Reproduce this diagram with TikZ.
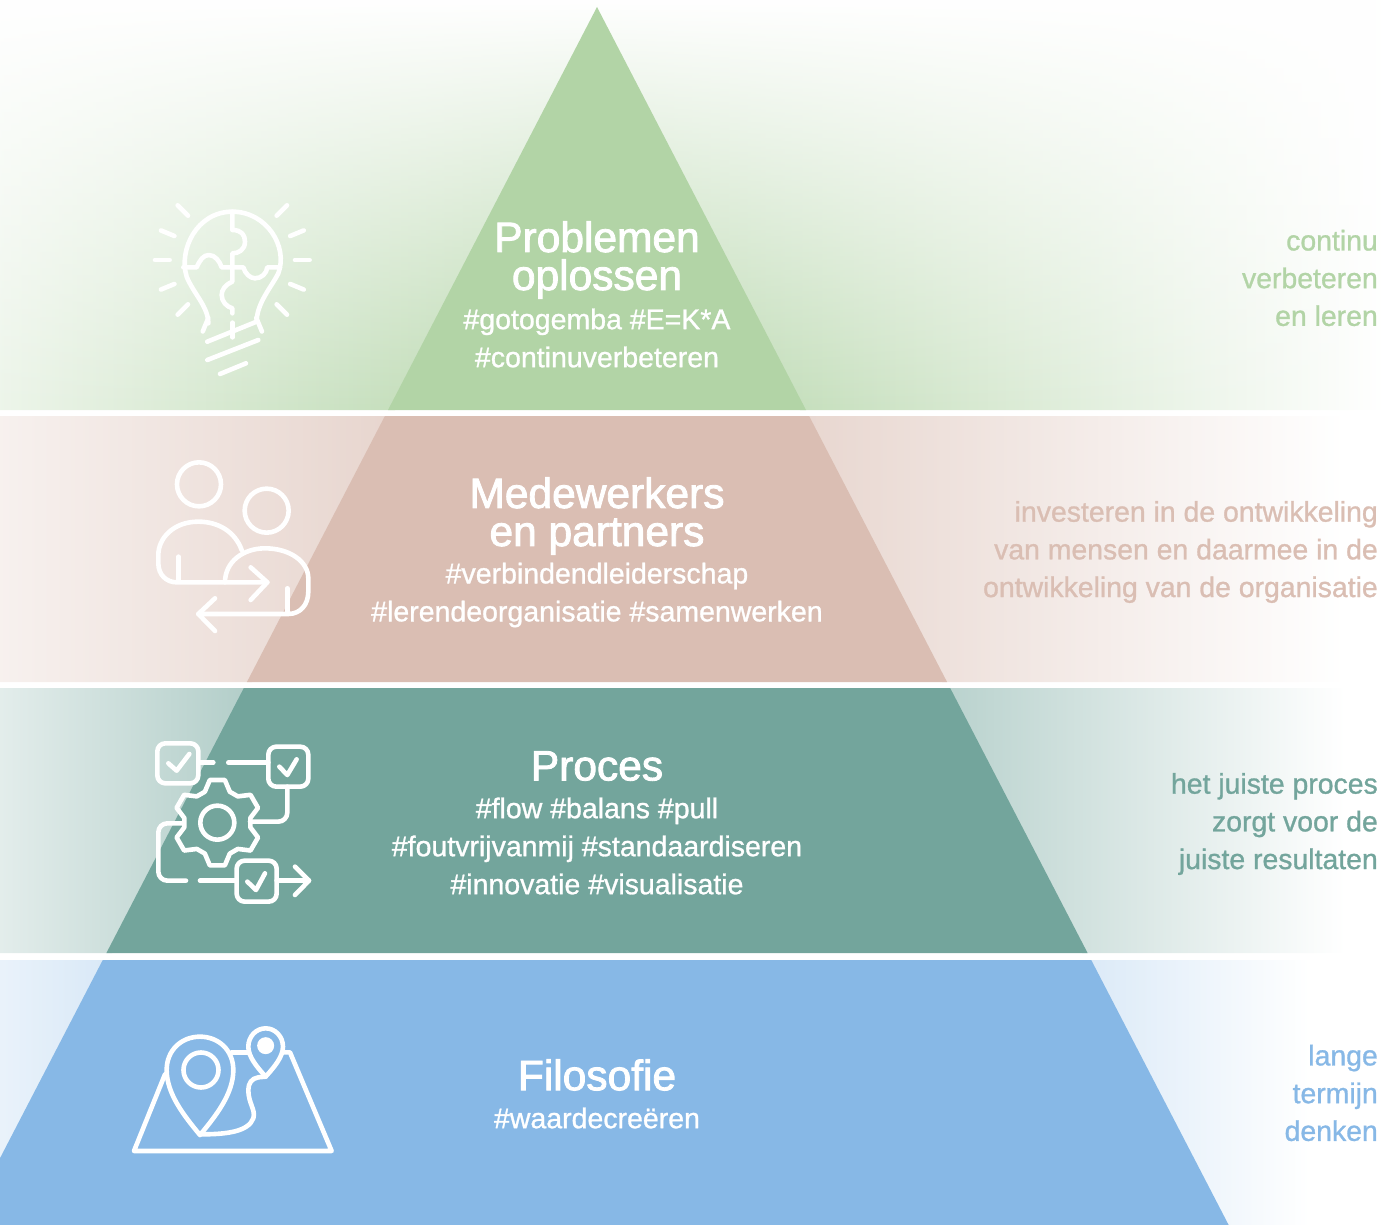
\documentclass[tikz,border=0pt]{standalone}
\usepackage{fontspec}
\setmainfont{Liberation Sans}[FakeBold=1]
\newfontfamily\titelfont{Liberation Sans}[FakeBold=2]
\usetikzlibrary{fadings}
\definecolor{groen}{HTML}{B2D4A6}
\definecolor{roze}{HTML}{DABEB3}
\definecolor{teal}{HTML}{73A59C}
\definecolor{blauw}{HTML}{87B8E6}
\tikzfading[name=topfade, top color=transparent!0, middle color=transparent!25, bottom color=transparent!100]
\tikzset{titel/.style = {text=white, align=center, font=\titelfont\fontsize{42.5}{38}\selectfont, inner sep=0pt},
    tags/.style = {text=white, align=center, font=\fontsize{28.5}{38}\selectfont, inner sep=0pt},
    zij/.style = {anchor=east, align=right, font=\fontsize{28.4}{37.7}\selectfont, inner sep=0pt},
    icoon/.style = {draw=white, line width=4.6pt, line cap=round, line join=round}}

\begin{document}
\begin{tikzpicture}[x=1pt, y=-1pt]
    \useasboundingbox (0,0) rectangle (1385,1225);

    % banden
    \shade[left color=groen!24, right color=groen!100] (0,0) -- (600,0) -- (395,410) -- (0,410) -- cycle;
    \shade[left color=groen!100, middle color=groen!38, right color=white] (590,0) -- (1385,0) -- (1385,410) -- (800,410) -- cycle;
    \fill[white, path fading=topfade] (0,0) rectangle (1385,410);
    \shade[left color=roze!22, right color=roze!64] (0,416) -- (390,416) -- (252,682) -- (0,682) -- cycle;
    \shade[left color=roze!62, right color=white] (805,416) -- (1345,416) -- (1345,682) -- (942,682) -- cycle;
    \shade[left color=teal!20, right color=teal!55] (0,688) -- (250,688) -- (112,953) -- (0,953) -- cycle;
    \shade[left color=teal!50, middle color=teal!24, right color=white] (945,688) -- (1345,688) -- (1345,953) -- (1082,953) -- cycle;
    \shade[left color=blauw!18, right color=blauw!32] (0,960) -- (110,960) -- (0,1170) -- cycle;
    \shade[left color=blauw!30, right color=white] (1085,960) -- (1310,960) -- (1310,1225) -- (1222,1225) -- cycle;

    % piramide
    \foreach \c/\t/\b in {groen/7/410, roze/416/682, teal/688/953, blauw/960/1225}
        \fill[\c] ({597-.5186*(\t-7)},\t) -- ({597+.5186*(\t-7)},\t) -- ({597+.5186*(\b-7)},\b) -- ({597-.5186*(\b-7)},\b) -- cycle;

    % teksten
    \node[titel] (problemen) at (597,260) {Problemen\\oplossen};
    \node[tags] (problementags) at (597,338) {\#gotogemba \#E=K*A\\\#continuverbeteren};
    \node[titel] (medewerkers) at (597,516) {Medewerkers\\en partners};
    \node[tags] (medewerkerstags) at (597,595) {\#verbindendleiderschap\\\#lerendeorganisatie \#samenwerken};
    \node[titel] (proces) at (597,766) {Proces};
    \node[tags] (procestags) at (597,846) {\#flow \#balans \#pull\\\#foutvrijvanmij \#standaardiseren\\\#innovatie \#visualisatie};
    \node[titel] (filosofie) at (597,1075) {Filosofie};
    \node[tags] (filosofietags) at (597,1118) {\#waardecreëren};

    \node[zij, text=groen] (verbeteren) at (1378,278) {continu\\verbeteren\\en leren};
    \node[zij, text=roze] (investeren) at (1378,552) {investeren in de ontwikkeling\\van mensen en daarmee in de\\ontwikkeling van de organisatie};
    \node[zij, text=teal] (juiste) at (1378,824) {het juiste proces\\zorgt voor de\\juiste resultaten};
    \node[zij, text=blauw] (lange) at (1378,1093) {lange\\termijn\\denken};

    % lamp
    \begin{scope}[shift={(130,170)}, x=.3333pt, y=-.3333pt]
        \foreach \a in {0,22.5,45,67.5,90,112.5,135,157.5,180,202.5,225,-45,-22.5}
            \draw[icoon] ([shift={(\a:188)}]307,270) -- ([shift={(\a:232)}]307,270);
        \draw[icoon] (235,460) .. controls (235,410) and (190,370) .. (170,320) .. controls (145,240) and (200,125) .. (307,125) .. controls (410,125) and (475,230) .. (445,310) .. controls (425,350) and (380,400) .. (380,455) -- (232,515);
        \draw[icoon] (232,570) -- (385,510);
        \draw[icoon] (270,612) -- (348,580);
        \draw[icoon] (307,125) -- (307,180) .. controls (335,180) and (345,195) .. (345,215) .. controls (345,240) and (325,250) .. (307,250) -- (307,335) .. controls (285,345) and (275,360) .. (275,375) .. controls (275,395) and (290,410) .. (307,415) -- (307,430);
        \draw[icoon] (160,292) -- (200,292) .. controls (210,270) and (220,255) .. (237,255) .. controls (255,255) and (270,275) .. (275,292) -- (340,292) .. controls (345,310) and (360,325) .. (375,325) .. controls (395,325) and (410,310) .. (412,292) -- (450,292);
    \end{scope}

    % mensen
    \begin{scope}[shift={(130,450)}, x=.3333pt, y=-.3333pt]
        \draw[icoon] (207,103) circle (22pt);
        \draw[icoon] (410,182) circle (22pt);
        \draw[icoon] (145,320) -- (145,395);
        \draw[icoon] (335,300) .. controls (315,245) and (265,215) .. (205,215) .. controls (130,215) and (85,265) .. (85,315) -- (85,340) .. controls (85,375) and (110,397) .. (140,397) -- (412,397);
        \draw[icoon] (362,352) -- (412,397) -- (362,450);
        \draw[icoon] (285,397) .. controls (285,335) and (340,295) .. (405,295) .. controls (480,295) and (535,335) .. (535,385) -- (535,425) .. controls (535,465) and (510,492) .. (475,492) -- (205,492);
        \draw[icoon] (255,445) -- (205,492) -- (255,543);
        \draw[icoon] (472,415) -- (472,490);
    \end{scope}

    % proces
    \begin{scope}[shift={(130,730)}, x=.3333pt, y=-.3333pt]
        \draw[icoon, rounded corners=8pt] (82,40) rectangle (205,160);
        \draw[icoon, rounded corners=8pt] (415,50) rectangle (535,170);
        \draw[icoon, rounded corners=8pt] (320,392) rectangle (440,515);
        \draw[icoon] (115,100) -- (140,122) -- (178,72);
        \draw[icoon] (448,110) -- (472,135) -- (500,88);
        \draw[icoon] (352,455) -- (378,480) -- (405,430);
        \draw[icoon] (205,98) -- (250,98);
        \draw[icoon] (295,98) -- (415,98);
        \draw[icoon, rounded corners=9pt] (472,170) -- (472,275) -- (360,275);
        \draw[icoon, rounded corners=9pt] (160,280) -- (85,280) -- (85,452) -- (168,452);
        \draw[icoon] (210,452) -- (320,452);
        \draw[icoon] (440,452) -- (537,452);
        \draw[icoon] (495,410) -- (537,452) -- (495,495);
        \begin{scope}[shift={(262,278)}]
            \draw[icoon] (0,0) circle (17pt);
            \draw[icoon] (112:100) \foreach \a in {90,30,-30,-90,-150,-210} { -- (\a+22:100) -- (\a+10:130) -- (\a-10:130) -- (\a-22:100) } -- cycle;
        \end{scope}
    \end{scope}

    % kaart
    \begin{scope}[shift={(120,1015)}, x=.3333pt, y=-.3333pt]
        \draw[icoon] (135,178) -- (42,408) -- (635,408) -- (510,112) -- (490,112);
        \draw[icoon] (335,112) -- (385,112);
        \draw[icoon] (240,360) .. controls (190,300) and (140,235) .. (140,165) .. controls (140,105) and (185,65) .. (240,65) .. controls (295,65) and (340,105) .. (340,165) .. controls (340,235) and (290,300) .. (240,360);
        \draw[icoon] (243,165) circle (17.5pt);
        \draw[icoon] (437,185) .. controls (410,155) and (385,125) .. (385,95) .. controls (385,65) and (408,40) .. (437,40) .. controls (466,40) and (489,65) .. (489,95) .. controls (489,125) and (464,155) .. (437,185);
        \fill[white] (437,92) circle (8.5pt);
        \draw[icoon] (437,185) -- (415,187) .. controls (395,190) and (385,205) .. (385,225) .. controls (385,265) and (408,285) .. (400,310) .. controls (385,350) and (320,358) .. (245,358);
    \end{scope}
\end{tikzpicture}
\end{document}
